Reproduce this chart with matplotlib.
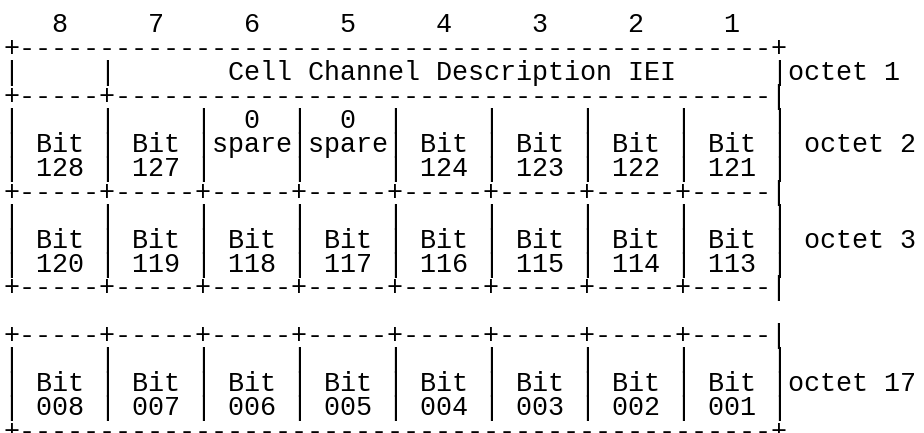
import matplotlib
matplotlib.use("Agg")
import matplotlib.pyplot as plt

# bit numbers across the top
bit_positions = [8, 7, 6, 5, 4, 3, 2, 1]
iei_name = "Cell Channel Description IEI"
octet_labels = ["octet 1", "octet 2", "octet 3", "octet 17"]

octet2_top = ["", "", "0", "0", "", "", "", ""]
octet2_mid = ["Bit", "Bit", "spare", "spare", "Bit", "Bit", "Bit", "Bit"]
octet2_bot = ["128", "127", "", "", "124", "123", "122", "121"]
octet3_bits = ["120", "119", "118", "117", "116", "115", "114", "113"]
octet17_bits = ["008", "007", "006", "005", "004", "003", "002", "001"]

W, H = 924, 433
CHAR_W = 16.05          # px per character
X0 = 3.7                # left edge of column 0
PITCH = 23.95           # px per text line
Y0 = 24.0               # centre of line 0
FS = CHAR_W / 0.6 * 72 / 100   # Liberation Mono advance is 0.6 em


def row(cells):
    return "|" + "|".join(c.center(5) for c in cells) + "|"


blank = [""] * 8
border = "+-----" * 8 + "|"
lines = [
    "".join(f"{b:>4}  " for b in bit_positions).rstrip(),
    "+" + "-" * 47 + "+",
    "|     |" + (" " * 7 + iei_name).ljust(41) + "|" + octet_labels[0],
    "+-----+" + "-" * 41 + "|",
    row(octet2_top),
    row(octet2_mid) + " " + octet_labels[1],
    row(octet2_bot),
    border,
    row(blank),
    row(["Bit"] * 8) + " " + octet_labels[2],
    row(octet3_bits),
    border,
    "",
    border,
    row(blank),
    row(["Bit"] * 8) + octet_labels[3],
    row(octet17_bits),
    "+" + "-" * 47 + "+",
]

fig = plt.figure(figsize=(W / 100, H / 100), dpi=100)
ax = fig.add_axes([0, 0, 1, 1])
ax.set_xlim(0, W)
ax.set_ylim(H, 0)
ax.axis("off")

for i, line in enumerate(lines):
    if not line:
        continue
    y = Y0 + i * PITCH + 8.0
    ax.text(X0, y, line, fontfamily="Liberation Mono", fontsize=FS,
            va="baseline", ha="left", color="black")

fig.savefig("out.png", dpi=100, facecolor="white")
